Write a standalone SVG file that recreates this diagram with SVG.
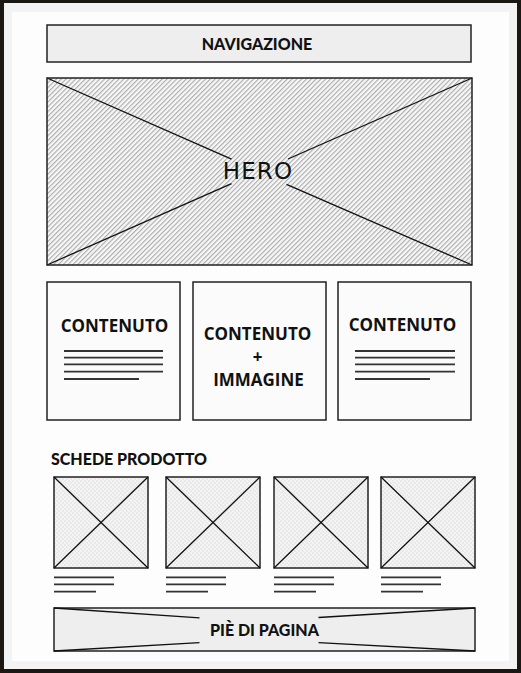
<svg xmlns="http://www.w3.org/2000/svg" width="521" height="673" viewBox="0 0 521 673">
  <defs>
    <pattern id="hatch" width="3.4" height="3.4" patternUnits="userSpaceOnUse" patternTransform="rotate(45)">
      <rect width="3.4" height="3.4" fill="#f7f7f7"/>
      <line x1="0.6" y1="0" x2="0.6" y2="3.4" stroke="#a2a2a2" stroke-width="1"/>
    </pattern>
    <pattern id="check" width="4" height="4" patternUnits="userSpaceOnUse">
      <rect width="4" height="4" fill="#f3f3f3"/>
      <rect width="2" height="2" fill="#e9e9e9"/>
      <rect x="2" y="2" width="2" height="2" fill="#e9e9e9"/>
    </pattern>
    <style>
      .box { stroke: #222; stroke-width: 1.5; }
      .diag { stroke: #111; stroke-width: 1.3; fill: none; }
      .txt { stroke: #333; stroke-width: 1.8; }
      .lato { font-family: Lato, "Liberation Sans", sans-serif; font-weight: 900; fill: #111; text-anchor: middle; }
      .open { font-family: "Open Sans", "Noto Sans", sans-serif; font-weight: bold; fill: #111; text-anchor: middle; font-size: 17px; }
    </style>
  </defs>

  <!-- frame -->
  <rect x="0" y="0" width="521" height="673" fill="#1c1713"/>
  <rect x="4" y="3" width="513" height="666" fill="#f3f3f3"/>
  <rect x="12" y="12" width="497" height="649" fill="#fdfdfd"/>

  <g id="nav">
    <rect class="box" x="47" y="25" width="424" height="37" fill="#eeeeee"/>
    <text class="lato" x="257" y="49.5" font-size="16">NAVIGAZIONE</text>
  </g>

  <g id="hero">
    <rect x="47" y="78" width="425" height="187" fill="url(#hatch)"/>
    <line class="diag" x1="47" y1="78" x2="231.5" y2="159.2"/>
    <line class="diag" x1="286.5" y1="184.4" x2="472" y2="265"/>
    <line class="diag" x1="472" y1="78" x2="288" y2="159"/>
    <line class="diag" x1="231.5" y1="183.6" x2="47" y2="265"/>
    <rect class="box" x="47" y="78" width="425" height="187" fill="none"/>
    <text x="258" y="178.5" font-family="'DejaVu Sans', sans-serif" font-size="23" letter-spacing="1.2" fill="#111" text-anchor="middle">HERO</text>
  </g>

  <g id="content1">
    <rect class="box" x="47" y="282" width="133" height="138" fill="#fbfbfb"/>
    <text class="open" x="114.5" y="332">CONTENUTO</text>
    <line class="txt" x1="64" y1="351" x2="163" y2="351"/>
    <line class="txt" x1="64" y1="357.7" x2="163" y2="357.7"/>
    <line class="txt" x1="64" y1="364.3" x2="163" y2="364.3"/>
    <line class="txt" x1="64" y1="371.7" x2="163" y2="371.7"/>
    <line class="txt" x1="64" y1="379" x2="139" y2="379"/>
  </g>

  <g id="content2">
    <rect class="box" x="193" y="282" width="133" height="138" fill="#fbfbfb"/>
    <text class="open" x="257.5" y="340">CONTENUTO</text>
    <text class="open" x="257.5" y="363">+</text>
    <text class="open" x="258.5" y="386">IMMAGINE</text>
  </g>

  <g id="content3">
    <rect class="box" x="338" y="282" width="133" height="138" fill="#fbfbfb"/>
    <text class="open" x="402.5" y="331">CONTENUTO</text>
    <line class="txt" x1="355" y1="351" x2="455" y2="351"/>
    <line class="txt" x1="355" y1="357.7" x2="455" y2="357.7"/>
    <line class="txt" x1="355" y1="364.3" x2="455" y2="364.3"/>
    <line class="txt" x1="355" y1="371.7" x2="455" y2="371.7"/>
    <line class="txt" x1="355" y1="379" x2="430" y2="379"/>
  </g>

  <g id="schede-title">
    <text class="lato" x="51" y="465" font-size="16" style="text-anchor:start">SCHEDE PRODOTTO</text>
  </g>

  <g id="card1">
    <rect class="box" x="54" y="477" width="94" height="91" fill="url(#check)"/>
    <line class="diag" x1="54" y1="477" x2="148" y2="568"/>
    <line class="diag" x1="148" y1="477" x2="54" y2="568"/>
    <line class="txt" x1="54" y1="577.3" x2="114" y2="577.3"/>
    <line class="txt" x1="54" y1="584.3" x2="114" y2="584.3"/>
    <line class="txt" x1="54" y1="591.7" x2="96" y2="591.7"/>
  </g>
  <g id="card2">
    <rect class="box" x="166" y="477" width="94" height="91" fill="url(#check)"/>
    <line class="diag" x1="166" y1="477" x2="260" y2="568"/>
    <line class="diag" x1="260" y1="477" x2="166" y2="568"/>
    <line class="txt" x1="166" y1="577.3" x2="226" y2="577.3"/>
    <line class="txt" x1="166" y1="584.3" x2="226" y2="584.3"/>
    <line class="txt" x1="166" y1="591.7" x2="208" y2="591.7"/>
  </g>
  <g id="card3">
    <rect class="box" x="274" y="477" width="94" height="91" fill="url(#check)"/>
    <line class="diag" x1="274" y1="477" x2="368" y2="568"/>
    <line class="diag" x1="368" y1="477" x2="274" y2="568"/>
    <line class="txt" x1="274" y1="577.3" x2="334" y2="577.3"/>
    <line class="txt" x1="274" y1="584.3" x2="334" y2="584.3"/>
    <line class="txt" x1="274" y1="591.7" x2="316" y2="591.7"/>
  </g>
  <g id="card4">
    <rect class="box" x="381" y="477" width="94" height="91" fill="url(#check)"/>
    <line class="diag" x1="381" y1="477" x2="475" y2="568"/>
    <line class="diag" x1="475" y1="477" x2="381" y2="568"/>
    <line class="txt" x1="381" y1="577.3" x2="441" y2="577.3"/>
    <line class="txt" x1="381" y1="584.3" x2="441" y2="584.3"/>
    <line class="txt" x1="381" y1="591.7" x2="423" y2="591.7"/>
  </g>

  <g id="footer">
    <rect class="box" x="54" y="608" width="421" height="43" fill="#eeeeee"/>
    <line class="diag" x1="54" y1="608" x2="199.5" y2="617.8"/>
    <line class="diag" x1="54" y1="651" x2="199.5" y2="642.6"/>
    <line class="diag" x1="475" y1="608" x2="318.5" y2="617.5"/>
    <line class="diag" x1="475" y1="651" x2="318.5" y2="642.6"/>
    <text class="lato" x="264.5" y="636" font-size="16">PIÈ DI PAGINA</text>
  </g>

  <g id="connectors"/>
</svg>
